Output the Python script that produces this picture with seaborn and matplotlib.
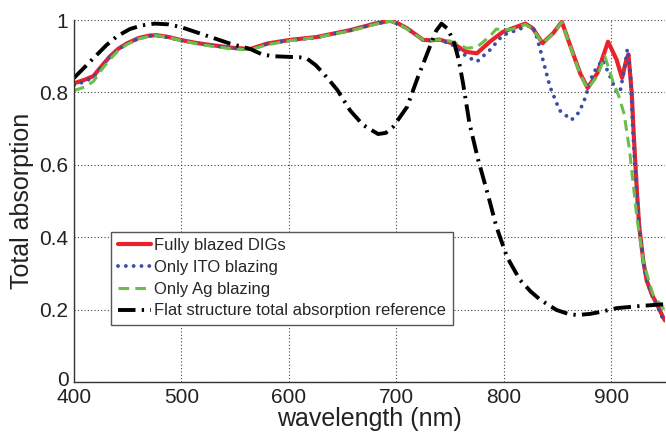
import numpy as np
import pandas as pd
import matplotlib
matplotlib.use("Agg")
import matplotlib.pyplot as plt
import matplotlib.transforms as mtransforms
import seaborn as sns

# Fully blazed DIGs
wl_full = [400, 410, 418, 425, 433, 441, 449, 460, 470, 477, 488, 499, 513, 527, 548, 564,
           580, 601, 626, 657, 680, 694, 702, 710, 718, 725, 733, 740, 747, 753, 765, 775,
           787, 799, 808, 820, 827, 836, 846, 854, 861, 871, 878, 887, 897, 905, 910, 914,
           916, 919, 921, 924, 926, 930, 933, 938, 942, 948, 950]
abs_full = [0.825, 0.835, 0.845, 0.870, 0.898, 0.920, 0.935, 0.950, 0.957, 0.958, 0.953, 0.945,
            0.937, 0.931, 0.923, 0.920, 0.935, 0.945, 0.953, 0.972, 0.990, 0.998, 0.990, 0.977,
            0.960, 0.945, 0.944, 0.946, 0.940, 0.935, 0.912, 0.908, 0.940, 0.967, 0.977, 0.990,
            0.977, 0.936, 0.964, 0.995, 0.936, 0.853, 0.812, 0.853, 0.940, 0.890, 0.840, 0.890,
            0.905, 0.800, 0.680, 0.520, 0.430, 0.330, 0.280, 0.240, 0.218, 0.180, 0.170]

# Only ITO blazing
wl_ito = [400, 410, 418, 425, 433, 441, 449, 460, 470, 477, 488, 499, 513, 527, 548, 564,
          580, 601, 626, 657, 680, 694, 702, 710, 718, 725, 733, 740, 747, 753, 759, 765,
          775, 787, 799, 812, 824, 829, 834, 843, 852, 863, 870, 875, 883, 892, 899, 905,
          908, 912, 915, 918, 920, 923, 926, 930, 933, 938, 942, 948, 950]
abs_ito = [0.820, 0.830, 0.842, 0.868, 0.896, 0.918, 0.934, 0.949, 0.956, 0.957, 0.952, 0.944,
           0.936, 0.930, 0.922, 0.919, 0.934, 0.944, 0.952, 0.971, 0.989, 0.997, 0.989, 0.976,
           0.959, 0.944, 0.943, 0.945, 0.938, 0.930, 0.915, 0.900, 0.885, 0.917, 0.958, 0.972,
           0.986, 0.970, 0.917, 0.815, 0.750, 0.724, 0.745, 0.779, 0.853, 0.890, 0.843, 0.800,
           0.800, 0.860, 0.920, 0.850, 0.700, 0.550, 0.430, 0.330, 0.280, 0.240, 0.215, 0.175,
           0.165]

# Only Ag blazing
wl_ag = [400, 410, 418, 425, 433, 441, 449, 460, 470, 477, 488, 499, 513, 527, 548, 564,
         580, 601, 626, 657, 680, 694, 702, 710, 725, 740, 750, 759, 765, 775, 787, 793,
         800, 808, 820, 827, 836, 846, 854, 861, 871, 878, 887, 894, 902, 907, 912, 917,
         924, 930, 939, 948, 950]
abs_ag = [0.805, 0.815, 0.830, 0.860, 0.890, 0.915, 0.932, 0.948, 0.955, 0.957, 0.952, 0.944,
          0.935, 0.928, 0.920, 0.918, 0.932, 0.943, 0.952, 0.970, 0.988, 0.997, 0.990, 0.975,
          0.945, 0.945, 0.942, 0.932, 0.922, 0.925, 0.955, 0.975, 0.972, 0.975, 0.988, 0.975,
          0.935, 0.963, 0.994, 0.935, 0.850, 0.810, 0.845, 0.900, 0.826, 0.790, 0.740, 0.640,
          0.450, 0.330, 0.240, 0.205, 0.195]

# Flat structure total absorption reference
wl_flat = [400, 410, 420, 430, 440, 452, 463, 475, 488, 500, 515, 530, 545, 564, 575, 585,
           601, 610, 617, 625, 632, 645, 657, 669, 683, 690, 697, 710, 719, 731, 737, 742,
           748, 754, 758, 762, 768, 776, 785, 793, 803, 815, 825, 834, 849, 860, 868, 880,
           889, 905, 927, 950]
abs_flat = [0.840, 0.870, 0.900, 0.930, 0.955, 0.975, 0.985, 0.990, 0.988, 0.980, 0.965, 0.950,
            0.935, 0.920, 0.905, 0.900, 0.898, 0.897, 0.893, 0.875, 0.853, 0.807, 0.750, 0.710,
            0.685, 0.688, 0.705, 0.760, 0.834, 0.925, 0.970, 0.990, 0.975, 0.935, 0.890, 0.826,
            0.715, 0.615, 0.520, 0.430, 0.345, 0.282, 0.250, 0.227, 0.199, 0.188, 0.185, 0.188,
            0.193, 0.204, 0.210, 0.215]

x_ticks = [400, 500, 600, 700, 800, 900]
y_ticks = [0, 0.2, 0.4, 0.6, 0.8, 1.0]
y_tick_labels = ["0", "0.2", "0.4", "0.6", "0.8", "1"]

series = [
    ("Fully blazed DIGs", wl_full, abs_full,
     dict(color="#e8232b", lw=3.0, linestyle="-")),
    ("Only ITO blazing", wl_ito, abs_ito,
     dict(color="#3b4ea6", lw=2.8, linestyle=(0, (0.01, 2.0)), dash_capstyle="round")),
    ("Only Ag blazing", wl_ag, abs_ag,
     dict(color="#6abf4b", lw=2.2, linestyle=(0, (3.5, 2.0)))),
    ("Flat structure total absorption reference", wl_flat, abs_flat,
     dict(color="black", lw=2.8, linestyle=(0, (4.5, 1.6, 0.6, 1.6)))),
]

sns.set_theme(style="white")
plt.rcParams["font.family"] = ["Liberation Sans", "DejaVu Sans"]

fig = plt.figure(figsize=(6.66, 4.33), dpi=100)
ax = fig.add_axes([74 / 666, 51 / 433, 591 / 666, 362 / 433])

for name, wl, ab, style in series:
    df = pd.DataFrame({"wavelength": wl, "absorption": ab})
    sns.lineplot(data=df, x="wavelength", y="absorption", ax=ax, label=name,
                 sort=True, estimator=None, **style)

ax.set_xlim(400, 950)
ax.set_ylim(0, 1)
ax.set_xticks(x_ticks)
ax.set_yticks(y_ticks)
ax.set_yticklabels(y_tick_labels)
ax.grid(True, color="#444444", linestyle=(0, (1, 2)), linewidth=0.8)
ax.set_axisbelow(True)

for side in ("top", "right"):
    ax.spines[side].set_visible(False)
for side in ("left", "bottom"):
    ax.spines[side].set_color("#333333")
    ax.spines[side].set_linewidth(1.0)

ax.tick_params(axis="both", direction="in", length=3, width=0.8, colors="#333333",
               labelsize=15, labelcolor="#222222", pad=4)

# lift the "0" label a little so it sits just above the "400" label
zero_label = ax.get_yticklabels()[0]
zero_label.set_transform(zero_label.get_transform()
                         + mtransforms.ScaledTranslation(0, 4 / 100, fig.dpi_scale_trans))

ax.set_xlabel("wavelength (nm)", fontsize=18, color="#222222", labelpad=0)
ax.set_ylabel("Total absorption", fontsize=18, color="#222222", labelpad=4)

leg = ax.legend(loc="lower left", bbox_to_anchor=((111 - 74) / 591, (382 - 325) / 362),
                fontsize=12, frameon=True, fancybox=False, edgecolor="#555555",
                framealpha=1, handlelength=2.0, handletextpad=0.2, labelspacing=0.4,
                borderpad=0.4, borderaxespad=0)
leg.get_frame().set_linewidth(1.0)

fig.savefig("out.png", dpi=100)
